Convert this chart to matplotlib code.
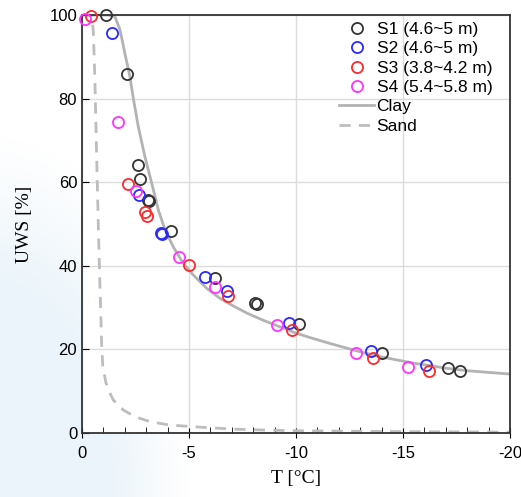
import numpy as np
import matplotlib
matplotlib.use('Agg')
import matplotlib.pyplot as plt

plt.rcParams['axes.unicode_minus'] = False

# measured points, T [C] and UWS [%]
s1_T = [-1.12, -2.1, -2.6, -2.7, -3.08, -3.12, -4.14, -6.2, -8.1, -8.2, -10.13, -14.0, -17.1, -17.66]
s1_U = [100.0, 86.0, 64.2, 60.8, 55.8, 55.4, 48.3, 37.2, 31.1, 30.8, 26.0, 19.2, 15.6, 14.8]
s2_T = [-1.4, -2.67, -3.7, -3.74, -5.75, -6.79, -9.69, -13.5, -16.06]
s2_U = [95.7, 57.0, 47.8, 47.5, 37.4, 34.0, 26.4, 19.5, 16.3]
s3_T = [-0.42, -2.15, -2.94, -3.02, -5.0, -6.8, -9.81, -13.6, -16.2]
s3_U = [99.8, 59.5, 52.8, 52.0, 40.2, 32.8, 24.6, 18.0, 14.9]
s4_T = [-0.14, -1.7, -2.5, -4.55, -6.2, -9.1, -12.8, -15.23]
s4_U = [99.0, 74.4, 58.0, 42.0, 34.9, 25.8, 19.1, 15.7]

# model curves
clay_T = [0, -1.2, -1.54, -1.78, -2.0, -2.24, -2.4, -2.63, -2.94, -3.26, -3.57, -3.88, -4.27,
          -4.73, -5.2, -5.83, -6.45, -7.0, -7.7, -8.5, -9.25, -10.0, -10.8, -11.6, -12.37,
          -13.1, -13.9, -14.7, -15.5, -16.3, -17.0, -18.0, -19.0, -20.0]
clay_U = [100, 100, 99.6, 96.4, 90.9, 85.2, 80.0, 73.3, 66.1, 59.7, 53.3, 48.6, 44.5,
          40.6, 37.8, 34.6, 32.2, 30.6, 28.7, 26.9, 25.4, 23.9, 22.6, 21.4, 20.3,
          19.3, 18.3, 17.5, 16.7, 16.1, 15.5, 14.9, 14.5, 14.1]
sand_T = [0, -0.45, -0.53, -0.6, -0.69, -0.76, -0.84, -0.92, -0.97, -1.12, -1.28, -1.46,
          -1.93, -2.48, -3.18, -4.1, -5.5, -7.0, -8.5, -10.0, -13.0, -16.0, -20.0]
sand_U = [100, 100, 96, 85, 65, 50, 35, 21, 16, 12, 9.8, 7.9,
          5.5, 3.9, 2.7, 1.9, 1.4, 0.95, 0.7, 0.55, 0.4, 0.3, 0.2]

labels = ['S1 (4.6~5 m)', 'S2 (4.6~5 m)', 'S3 (3.8~4.2 m)', 'S4 (5.4~5.8 m)']
colors = ['#333333', '#2a2aff', '#ff2a2a', '#ff33ff']

fig = plt.figure(figsize=(5.21, 4.97), dpi=100)

# faint blue wash at lower left
bg = fig.add_axes([0, 0, 1, 1], zorder=-5)
yy, xx = np.mgrid[0:1:250j, 0:1:250j]
fade = np.clip((1 - np.hypot(xx / 0.36, yy / 0.72)) * 2.5, 0, 1)
img = np.ones((250, 250, 3))
img[..., 0] -= 0.075 * fade
img[..., 1] -= 0.04 * fade
img[..., 2] -= 0.018 * fade
bg.imshow(img, origin='lower', extent=[0, 1, 0, 1], aspect='auto')
bg.axis('off')

ax = fig.add_axes([82 / 521, 1 - 433 / 497, 428 / 521, 418 / 497])
ax.plot(clay_T, clay_U, color='#b3b3b3', lw=2, label='Clay', zorder=2)
ax.plot(sand_T, sand_U, color='#bdbdbd', lw=2, ls=(0, (4, 3)), label='Sand', zorder=2)
for T, U, lab, c in zip([s1_T, s2_T, s3_T, s4_T], [s1_U, s2_U, s3_U, s4_U], labels, colors):
    ax.plot(T, U, 'o', ms=8, mfc='none', mec=c, mew=1.3, label=lab, zorder=3, clip_on=False)

ax.set_xlim(0, -20)
ax.set_ylim(0, 100)
ax.set_xticks([0, -5, -10, -15, -20])
ax.set_xticks(np.arange(0, -21, -1), minor=True)
ax.set_yticks([0, 20, 40, 60, 80, 100])
ax.grid(True, color='#dcdcdc', lw=1)
ax.set_axisbelow(True)
ax.tick_params(axis='x', which='major', direction='inout', length=7, top=False, labelsize=12, pad=6)
ax.tick_params(axis='x', which='minor', direction='in', length=4, top=False)
ax.tick_params(axis='y', direction='in', length=5, right=False, labelsize=12)
for lab in ax.get_xticklabels() + ax.get_yticklabels():
    lab.set_family('Liberation Sans')
for sp in ax.spines.values():
    sp.set_color('#333333')
    sp.set_linewidth(1.3)

ax.set_xlabel('T [°C]', family='Liberation Serif', fontsize=14, labelpad=6)
ax.set_ylabel('UWS [%]', family='Liberation Serif', fontsize=14, labelpad=12)

h, l = ax.get_legend_handles_labels()
order = [2, 3, 4, 5, 0, 1]
ax.legend([h[i] for i in order], [l[i] for i in order], loc='upper right',
          bbox_to_anchor=(0.975, 1.0), frameon=False, prop={'family': 'Liberation Sans', 'size': 12.5},
          handlelength=2.0, handletextpad=0.15, labelspacing=0.24, borderaxespad=0.0)

fig.savefig('out.png', dpi=100)
